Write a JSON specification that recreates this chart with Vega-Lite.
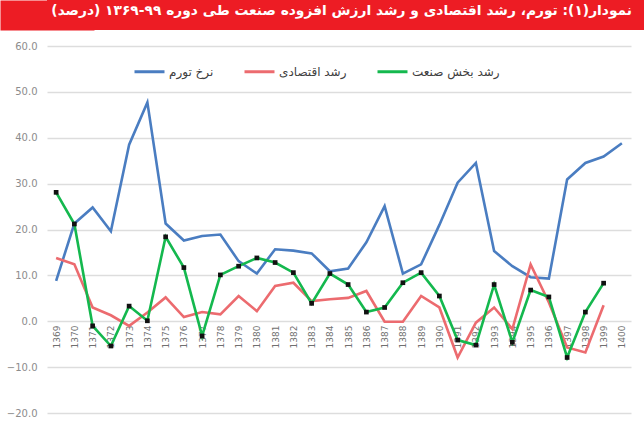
{
  "$schema": "https://vega.github.io/schema/vega-lite/v6.json",
  "padding": 0,
  "background": "white",
  "spacing": 11,
  "config": {"view": {"stroke": null}, "font": "DejaVu Sans"},
  "vconcat": [
    {
      "width": 597,
      "height": 30,
      "view": {"fill": "#ED1C24", "stroke": null},
      "data": {"values": [{"title": "‫نمودار(۱): تورم، رشد اقتصادی و رشد ارزش افزوده صنعت طی دوره ۹۹-۱۳۶۹ (درصد)‏‬"}]},
      "mark": {"type": "text", "align": "right", "baseline": "middle", "fontWeight": "bold", "fontSize": 13.8, "color": "white", "dx": -12, "dy": -4, "font": "DejaVu Sans"},
      "encoding": {
        "text": {"field": "title"},
        "x": {"value": "width"},
        "y": {"datum": 0.5, "type": "quantitative", "scale": {"domain": [0, 1]}, "axis": {"title": null, "labels": false, "ticks": false, "grid": false, "domain": true, "domainColor": "#ED1C24", "domainWidth": 94}}
      }
    },
    {
      "width": 584,
      "height": 367,
      "data": {"values": [
        {"year": "1369", "series": "نرخ تورم", "value": 8.8},
        {"year": "1370", "series": "نرخ تورم", "value": 21.3},
        {"year": "1371", "series": "نرخ تورم", "value": 24.8},
        {"year": "1372", "series": "نرخ تورم", "value": 19.6},
        {"year": "1373", "series": "نرخ تورم", "value": 38.5},
        {"year": "1374", "series": "نرخ تورم", "value": 47.7},
        {"year": "1375", "series": "نرخ تورم", "value": 21.3},
        {"year": "1376", "series": "نرخ تورم", "value": 17.6},
        {"year": "1377", "series": "نرخ تورم", "value": 18.6},
        {"year": "1378", "series": "نرخ تورم", "value": 18.9},
        {"year": "1379", "series": "نرخ تورم", "value": 13.1},
        {"year": "1380", "series": "نرخ تورم", "value": 10.4},
        {"year": "1381", "series": "نرخ تورم", "value": 15.7},
        {"year": "1382", "series": "نرخ تورم", "value": 15.4},
        {"year": "1383", "series": "نرخ تورم", "value": 14.8},
        {"year": "1384", "series": "نرخ تورم", "value": 10.9},
        {"year": "1385", "series": "نرخ تورم", "value": 11.5},
        {"year": "1386", "series": "نرخ تورم", "value": 17.2},
        {"year": "1387", "series": "نرخ تورم", "value": 25.1},
        {"year": "1388", "series": "نرخ تورم", "value": 10.4},
        {"year": "1389", "series": "نرخ تورم", "value": 12.4},
        {"year": "1390", "series": "نرخ تورم", "value": 21.0},
        {"year": "1391", "series": "نرخ تورم", "value": 30.2},
        {"year": "1392", "series": "نرخ تورم", "value": 34.5},
        {"year": "1393", "series": "نرخ تورم", "value": 15.3},
        {"year": "1394", "series": "نرخ تورم", "value": 12.0},
        {"year": "1395", "series": "نرخ تورم", "value": 9.6},
        {"year": "1396", "series": "نرخ تورم", "value": 9.3},
        {"year": "1397", "series": "نرخ تورم", "value": 30.9},
        {"year": "1398", "series": "نرخ تورم", "value": 34.5},
        {"year": "1399", "series": "نرخ تورم", "value": 35.9},
        {"year": "1400", "series": "نرخ تورم", "value": 38.8},
        {"year": "1369", "series": "رشد اقتصادی", "value": 13.8},
        {"year": "1370", "series": "رشد اقتصادی", "value": 12.4},
        {"year": "1371", "series": "رشد اقتصادی", "value": 3.0},
        {"year": "1372", "series": "رشد اقتصادی", "value": 1.3},
        {"year": "1373", "series": "رشد اقتصادی", "value": -1.0},
        {"year": "1374", "series": "رشد اقتصادی", "value": 1.9},
        {"year": "1375", "series": "رشد اقتصادی", "value": 5.2},
        {"year": "1376", "series": "رشد اقتصادی", "value": 0.9},
        {"year": "1377", "series": "رشد اقتصادی", "value": 2.0},
        {"year": "1378", "series": "رشد اقتصادی", "value": 1.5},
        {"year": "1379", "series": "رشد اقتصادی", "value": 5.5},
        {"year": "1380", "series": "رشد اقتصادی", "value": 2.2},
        {"year": "1381", "series": "رشد اقتصادی", "value": 7.7},
        {"year": "1382", "series": "رشد اقتصادی", "value": 8.4},
        {"year": "1383", "series": "رشد اقتصادی", "value": 4.4},
        {"year": "1384", "series": "رشد اقتصادی", "value": 4.8},
        {"year": "1385", "series": "رشد اقتصادی", "value": 5.1},
        {"year": "1386", "series": "رشد اقتصادی", "value": 6.6},
        {"year": "1387", "series": "رشد اقتصادی", "value": -0.1},
        {"year": "1388", "series": "رشد اقتصادی", "value": -0.1},
        {"year": "1389", "series": "رشد اقتصادی", "value": 5.5},
        {"year": "1390", "series": "رشد اقتصادی", "value": 3.0},
        {"year": "1391", "series": "رشد اقتصادی", "value": -7.9},
        {"year": "1392", "series": "رشد اقتصادی", "value": -0.3},
        {"year": "1393", "series": "رشد اقتصادی", "value": 3.0},
        {"year": "1394", "series": "رشد اقتصادی", "value": -1.7},
        {"year": "1395", "series": "رشد اقتصادی", "value": 12.4},
        {"year": "1396", "series": "رشد اقتصادی", "value": 4.1},
        {"year": "1397", "series": "رشد اقتصادی", "value": -5.7},
        {"year": "1398", "series": "رشد اقتصادی", "value": -6.8},
        {"year": "1399", "series": "رشد اقتصادی", "value": 3.5},
        {"year": "1369", "series": "رشد بخش صنعت", "value": 28.1},
        {"year": "1370", "series": "رشد بخش صنعت", "value": 21.2},
        {"year": "1371", "series": "رشد بخش صنعت", "value": -1.0},
        {"year": "1372", "series": "رشد بخش صنعت", "value": -5.4},
        {"year": "1373", "series": "رشد بخش صنعت", "value": 3.3},
        {"year": "1374", "series": "رشد بخش صنعت", "value": 0.1},
        {"year": "1375", "series": "رشد بخش صنعت", "value": 18.4},
        {"year": "1376", "series": "رشد بخش صنعت", "value": 11.7},
        {"year": "1377", "series": "رشد بخش صنعت", "value": -3.2},
        {"year": "1378", "series": "رشد بخش صنعت", "value": 10.1},
        {"year": "1379", "series": "رشد بخش صنعت", "value": 12.0},
        {"year": "1380", "series": "رشد بخش صنعت", "value": 13.8},
        {"year": "1381", "series": "رشد بخش صنعت", "value": 12.8},
        {"year": "1382", "series": "رشد بخش صنعت", "value": 10.6},
        {"year": "1383", "series": "رشد بخش صنعت", "value": 3.9},
        {"year": "1384", "series": "رشد بخش صنعت", "value": 10.4},
        {"year": "1385", "series": "رشد بخش صنعت", "value": 8.0},
        {"year": "1386", "series": "رشد بخش صنعت", "value": 2.0},
        {"year": "1387", "series": "رشد بخش صنعت", "value": 3.0},
        {"year": "1388", "series": "رشد بخش صنعت", "value": 8.4},
        {"year": "1389", "series": "رشد بخش صنعت", "value": 10.6},
        {"year": "1390", "series": "رشد بخش صنعت", "value": 5.5},
        {"year": "1391", "series": "رشد بخش صنعت", "value": -4.1},
        {"year": "1392", "series": "رشد بخش صنعت", "value": -5.2},
        {"year": "1393", "series": "رشد بخش صنعت", "value": 8.0},
        {"year": "1394", "series": "رشد بخش صنعت", "value": -4.6},
        {"year": "1395", "series": "رشد بخش صنعت", "value": 6.8},
        {"year": "1396", "series": "رشد بخش صنعت", "value": 5.3},
        {"year": "1397", "series": "رشد بخش صنعت", "value": -7.9},
        {"year": "1398", "series": "رشد بخش صنعت", "value": 2.0},
        {"year": "1399", "series": "رشد بخش صنعت", "value": 8.3}
      ]},
      "encoding": {
        "x": {
          "field": "year", "type": "ordinal",
          "scale": {"type": "point", "padding": 0.5},
          "axis": {"title": null, "labelAngle": 270, "offset": -92, "ticks": false, "domain": false, "grid": false, "labelFontSize": 9, "labelColor": "#707070", "labelPadding": 4, "labelFont": "DejaVu Sans"}
        },
        "y": {
          "field": "value", "type": "quantitative",
          "scale": {"domain": [-20, 60], "nice": false, "zero": false},
          "axis": {"title": null, "values": [-20, -10, 0, 10, 20, 30, 40, 50, 60], "format": ".1f", "grid": true, "gridColor": "#DDDDDD", "gridWidth": 1.5, "ticks": false, "domain": false, "labelPadding": 10, "labelFontSize": 10, "labelColor": "#8C8C8C", "minExtent": 47, "labelFont": "DejaVu Sans"}
        }
      },
      "layer": [
        {
          "mark": {"type": "line", "strokeWidth": 2.6},
          "encoding": {
            "color": {
              "field": "series", "type": "nominal",
              "scale": {"domain": ["نرخ تورم", "رشد اقتصادی", "رشد بخش صنعت"], "range": ["#4A7DC1", "#EC6B6F", "#14B84E"]},
              "legend": {"title": null, "orient": "none", "direction": "horizontal", "legendX": 86, "legendY": 55, "symbolType": "stroke", "symbolSize": 900, "symbolStrokeWidth": 3, "labelFontSize": 12, "labelColor": "#404040", "columnPadding": 24, "labelOffset": 3, "labelFont": "DejaVu Sans"}
            }
          }
        },
        {
          "transform": [{"filter": "datum.series === 'رشد بخش صنعت'"}],
          "mark": {"type": "point", "shape": "square", "filled": true, "color": "#111111", "size": 22, "opacity": 1}
        }
      ]
    }
  ]
}
